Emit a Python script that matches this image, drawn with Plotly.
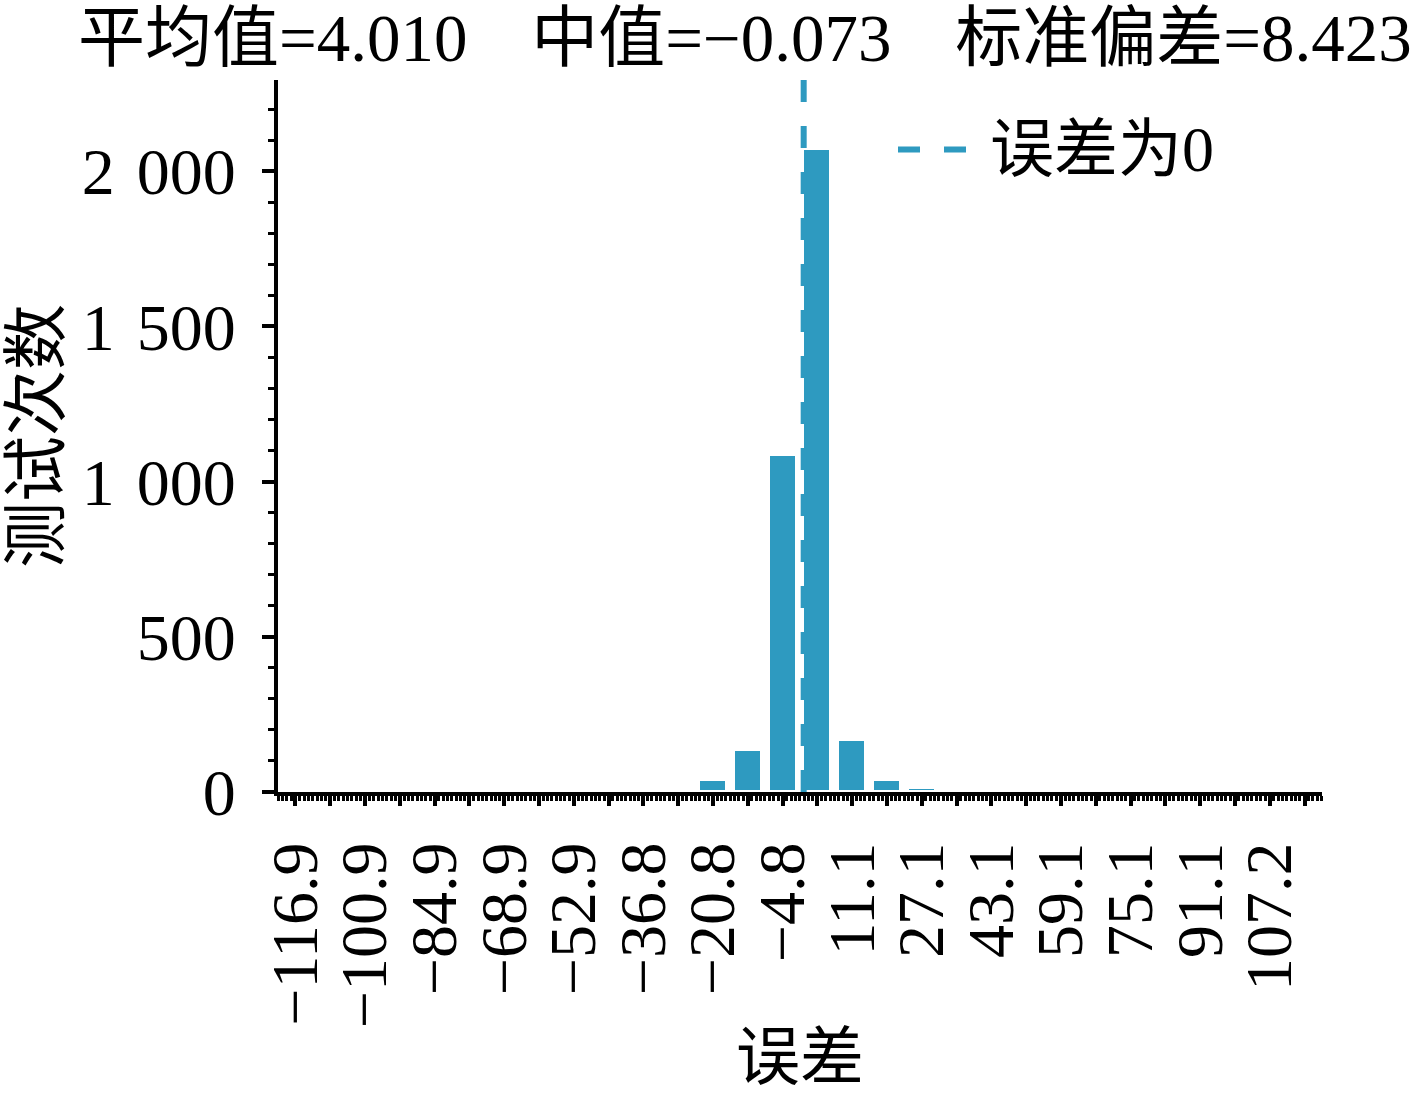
import plotly.graph_objects as go

# ---------------- data ----------------
bin_left_edge = -120.9
bin_width = 8.0036
counts = [2, 2, 2, 2, 2, 2, 2, 2, 2, 1,
          0, 0, 40, 134, 1085, 2072, 166, 38, 14, 0,
          1, 1, 0, 2, 2, 2, 2, 2, 2, 2]
x_tick_labels = ["−116.9", "−100.9", "−84.9", "−68.9", "−52.9", "−36.8", "−20.8",
                 "−4.8", "11.1", "27.1", "43.1", "59.1", "75.1", "91.1", "107.2"]
y_tick_values = [0, 500, 1000, 1500, 2000]
y_tick_labels = ["0", "500", "1 \u200a000", "1 \u200a500", "2 \u200a000"]
y_max = 2294
zero_error = 0
mean_val, median_val, std_val = 4.010, -0.073, 8.423
x_title = "误差"
y_title = "测试次数"
legend_label = "误差为0"

# ---------------- style ----------------
BLUE = "#2e9ac0"
FONT = "'Liberation Serif', 'Noto Sans CJK SC', serif"
W, H = 1417, 1093
L, R, T, B = 278, 95, 80, 296


def fmt(v):
    return f"{v:.3f}".replace("-", "−")


GAP = "   \u2009"
stats_title = (f"平均值={fmt(mean_val)}{GAP}中值={fmt(median_val)}{GAP}"
               f"标准偏差={fmt(std_val)}")

centers = [bin_left_edge + bin_width * (i + 0.5) for i in range(len(counts))]
tick_text = [x_tick_labels[i // 2] if i % 2 == 0 else "" for i in range(len(counts))]

fig = go.Figure()
fig.add_trace(go.Bar(
    x=centers, y=counts, width=bin_width * 0.8,
    marker=dict(color=BLUE, line=dict(color="white", width=3)),
    showlegend=False, hoverinfo="x+y",
))

# zero-error reference line
fig.add_shape(type="line", xref="x", yref="paper", x0=zero_error, x1=zero_error,
              y0=0, y1=1, line=dict(color=BLUE, width=6, dash="22px,24px"),
              layer="above")

# manual legend
pw, ph = W - L - R, H - T - B


def px_x(p):
    return (p - L) / pw


def px_y(p):
    return (H - B - p) / ph


fig.add_shape(type="line", xref="paper", yref="paper",
              x0=px_x(898), x1=px_x(972), y0=px_y(150), y1=px_y(150),
              line=dict(color=BLUE, width=6, dash="22px,24px"))
fig.add_annotation(xref="paper", yref="paper", x=px_x(988), y=px_y(150),
                   xanchor="left", yanchor="middle", text=legend_label,
                   showarrow=False, font=dict(family=FONT, size=64, color="black"))

fig.update_layout(
    width=W, height=H,
    margin=dict(l=L, r=R, t=T, b=B, pad=0),
    paper_bgcolor="white", plot_bgcolor="white",
    bargap=0,
    title=dict(text=stats_title, xref="container", yref="container",
               x=78 / W, xanchor="left", y=1 - 38 / H, yanchor="middle",
               font=dict(family=FONT, size=67, color="black")),
    xaxis=dict(
        range=[bin_left_edge, bin_left_edge + len(counts) * bin_width],
        tickmode="array", tickvals=centers, ticktext=tick_text,
        tickangle=-90, ticks="outside", ticklen=10, tickwidth=4, tickcolor="black",
        showline=True, linewidth=4, linecolor="black",
        showgrid=False, zeroline=False, layer="below traces",
        minor=dict(tickmode="linear", tick0=centers[0], dtick=1, ticks="outside",
                   ticklen=5, tickwidth=2.5, tickcolor="black", showgrid=False),
        tickfont=dict(family=FONT, size=66, color="black"),
        ticklabelstandoff=10,
        title=dict(text=x_title, standoff=8,
                   font=dict(family=FONT, size=64, color="black")),
    ),
    yaxis=dict(
        range=[0, y_max],
        tickmode="array", tickvals=y_tick_values, ticktext=y_tick_labels,
        ticks="outside", ticklen=12, tickwidth=4, tickcolor="black",
        showline=True, linewidth=4, linecolor="black",
        showgrid=False, zeroline=False,
        minor=dict(tickmode="linear", tick0=0, dtick=100, ticks="outside",
                   ticklen=6, tickwidth=3, tickcolor="black", showgrid=False),
        tickfont=dict(family=FONT, size=66, color="black"),
        ticklabelstandoff=13,
        title=dict(text=y_title, standoff=14,
                   font=dict(family=FONT, size=66, color="black")),
    ),
)

fig.write_html(
    "out.html",
    config={"displayModeBar": False},
    post_script="document.body.style.margin='0';document.body.style.overflow='hidden';",
)
